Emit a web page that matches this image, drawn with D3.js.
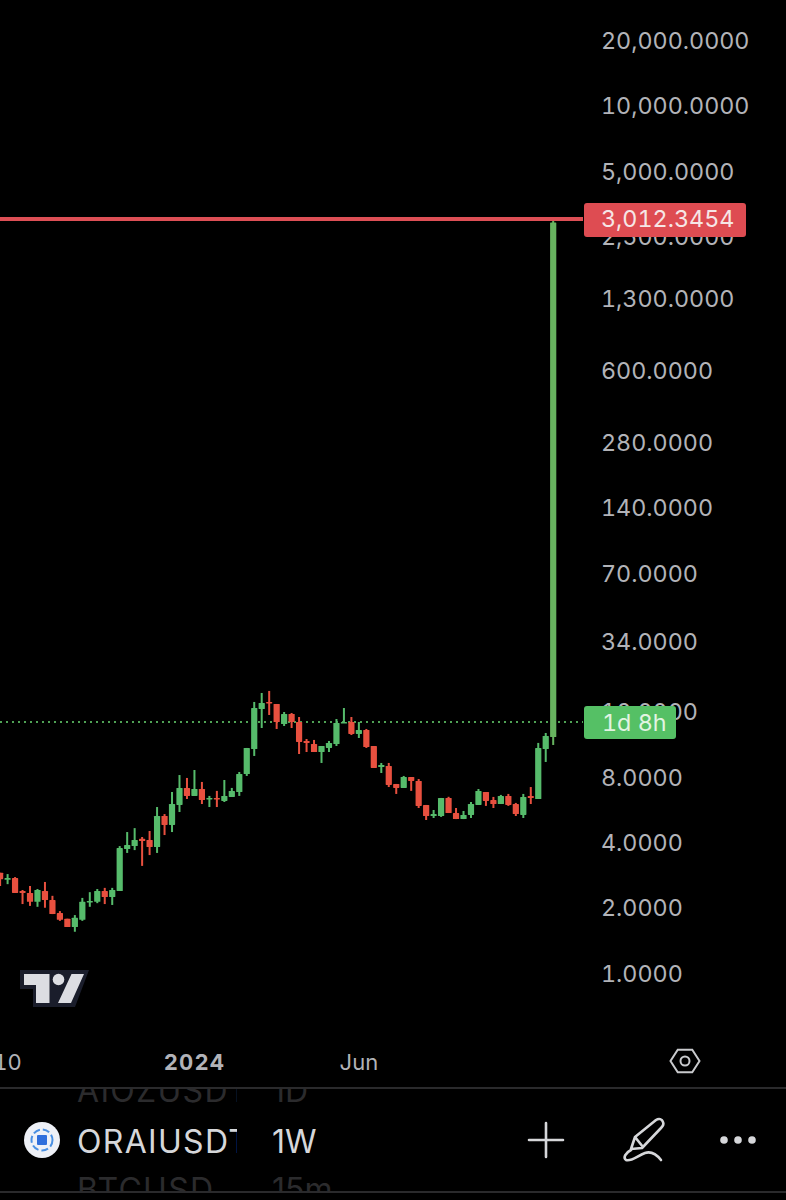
<!DOCTYPE html>
<html>
<head>
<meta charset="utf-8">
<script src="https://cdn.jsdelivr.net/npm/d3@7"></script>
<style>
  html, body { margin: 0; padding: 0; background: #000; }
  svg { display: block; }
  text { font-family: Inter, "Liberation Sans", sans-serif; font-variant-numeric: tabular-nums; font-feature-settings: "tnum" 1; }
  text.tf { font-variant-numeric: normal; font-feature-settings: "tnum" 0; }
</style>
</head>
<body>
<svg id="chart" width="786" height="1200"></svg>
<script>
// weekly candles, index 0 is the tall green one before 2024
const firstIndex = -16
const opens = [2.90,2.69,2.74,2.39,2.34,2.13,2.39,2.17,1.89,1.78,1.63,1.76,2.13,2.13,2.39,2.24,2.39,3.73,3.85,4.16,4.11,3.81,5.30,4.82,5.96,7.14,6.56,7.06,6.35,6.42,6.22,6.49,6.84,8.28,10.80,16.52,17.80,17.42,14.08,15.67,14.39,11.76,11.39,10.46,10.92,11.39,14.24,14.39,12.67,13.22,11.15,8.92,9.02,7.45,7.14,8.02,7.69,5.96,5.30,5.30,6.42,5.47,5.13,5.36,5.96,6.84,6.28,6.02,6.56,6.02,5.36,6.56,6.35,10.80,12.27]
const highs = [2.90,2.86,2.77,2.415,2.52,2.44,2.63,2.27,1.93,1.78,1.85,2.22,2.36,2.44,2.47,2.47,3.85,4.47,4.66,4.24,4.52,5.83,5.41,6.84,8.19,7.94,8.64,7.61,6.56,6.92,7.77,7.14,8.46,10.92,17.80,19.58,20.01,17.42,16.00,15.83,15.17,12.01,11.89,11.15,11.76,14.85,16.69,15.17,14.39,13.36,11.15,9.31,9.31,7.45,8.11,8.02,7.85,5.96,5.65,6.42,6.50,5.77,5.59,6.15,7.06,6.84,6.49,6.63,6.70,6.09,6.70,7.21,11.52,12.80,3012.3454]
const lows = [2.52,2.57,2.34,2.08,2.04,2.02,2.00,1.87,1.74,1.63,1.55,1.74,2.02,2.10,2.08,2.06,2.39,3.58,3.69,3.12,3.50,3.58,4.33,4.47,5.53,6.35,6.56,6.02,5.83,5.83,6.15,6.49,6.56,8.11,10.03,13.50,15.50,13.36,13.79,13.50,10.24,10.46,10.46,9.31,10.46,11.15,14.24,12.53,12.14,10.92,8.83,8.37,7.21,6.70,7.14,6.92,5.77,5.08,5.19,5.25,5.47,5.13,5.13,5.19,5.96,5.90,5.77,6.02,5.90,5.30,5.19,6.02,6.35,9.41,11.27]
const closes = [2.71,2.74,2.34,2.34,2.13,2.415,2.17,1.87,1.76,1.63,1.80,2.13,2.15,2.39,2.24,2.415,3.77,3.90,4.11,4.06,3.81,5.30,4.82,6.02,7.14,6.56,7.06,6.28,6.42,6.35,6.56,6.92,8.28,10.92,16.69,17.61,17.61,14.39,15.67,14.39,11.64,11.52,10.46,11.15,11.52,14.24,14.39,12.67,13.22,11.03,8.83,9.11,7.37,7.14,8.02,7.69,5.90,5.30,5.41,6.42,5.47,5.13,5.36,6.02,6.92,6.22,6.02,6.56,5.96,5.41,6.49,6.42,10.92,12.40,2900]

const priceTicks = [20000,10000,5000,2500,1300,600,280,140,70,34,16,8,4,2,1]
const timeTicks = [{ i: -15, label: '10', bold: false }, { i: 10, label: '2024', bold: true }, { i: 32, label: 'Jun', bold: false }]
const lastPrice = 3012.3454
const dottedPrice = 14.39
const countdown = '1d 8h'
const symbols = [
  { name: 'AIOZUSDT', tf: '1D', y: 1102, fill: '#2b2b2d' },
  { name: 'ORAIUSDT', tf: '1W', y: 1152.5, fill: '#d6d7da' },
  { name: 'BTCUSD', tf: '15m', y: 1201, fill: '#2b2b2d' }
]

const candles = opens.map((o, k) => ({ i: firstIndex + k, o, h: highs[k], l: lows[k], c: closes[k] }))

const paneRight = 583
const y = d3.scaleLog().domain([1, 20000]).range([973, 40.7])
const x = d3.scaleLinear().domain([0, 58]).range([119.7, 553.2])

const red = '#e8503f'
const green = '#56bb6b'
const spikeGreen = '#67b35f'
const labelGrey = '#b2b3b8'
const svg = d3.select('#chart')

svg.append('defs').append('clipPath').attr('id', 'pane')
  .append('rect').attr('width', paneRight).attr('height', 1088)
svg.select('defs').append('clipPath').attr('id', 'symbolClip')
  .append('rect').attr('x', 70).attr('y', 1088).attr('width', 167).attr('height', 104)
svg.select('defs').append('clipPath').attr('id', 'listClip')
  .append('rect').attr('x', 0).attr('y', 1088).attr('width', 786).attr('height', 104)

// price labels go first, the badges sit on top of them
svg.append('g').selectAll('text').data(priceTicks).join('text')
  .attr('x', 601)
  .attr('y', d => y(d) + 8.5)
  .attr('font-size', 23.3)
  .attr('fill', labelGrey)
  .text(d => d3.format(',.4f')(d))

const pane = svg.append('g').attr('clip-path', 'url(#pane)')

pane.append('line')
  .attr('x1', 0).attr('x2', paneRight)
  .attr('y1', y(dottedPrice)).attr('y2', y(dottedPrice))
  .attr('stroke', '#4fa355').attr('stroke-width', 2).attr('stroke-dasharray', '2 4')

const marks = pane.append('g').selectAll('g').data(candles).join('g')
  .attr('fill', d => d.h === lastPrice ? spikeGreen : d.c >= d.o ? green : red)
  .attr('stroke', 'none')

marks.append('rect')
  .attr('x', d => x(d.i) - 1)
  .attr('width', 2)
  .attr('y', d => y(d.h))
  .attr('height', d => y(d.l) - y(d.h))

marks.append('rect')
  .attr('x', d => x(d.i) - 3.1)
  .attr('width', 6.2)
  .attr('y', d => y(Math.max(d.o, d.c)))
  .attr('height', d => Math.max(1.5, y(Math.min(d.o, d.c)) - y(Math.max(d.o, d.c))))
  .attr('rx', 0.6)

pane.append('line')
  .attr('x1', 0).attr('x2', paneRight)
  .attr('y1', y(lastPrice)).attr('y2', y(lastPrice))
  .attr('stroke', '#dd4f55').attr('stroke-width', 4)

// tradingview mark
const logo = svg.append('g')
logo.append('path')
  .attr('d', 'M20 970H89L75 1007H33V989H20Z')
  .attr('fill', '#1a1d2b')
logo.append('path')
  .attr('d', 'M24 974H49.5V1003H36V985H24Z M71.5 974H84L71 1003H58Z')
  .attr('fill', '#dcdde2')
logo.append('circle').attr('cx', 58.5).attr('cy', 979.5).attr('r', 5.8).attr('fill', '#dcdde2')

// badges
svg.append('rect').attr('x', 584).attr('y', 203).attr('width', 162).attr('height', 34).attr('rx', 3).attr('fill', '#de4c52')
svg.append('text').attr('x', 601).attr('y', 227).attr('font-size', 23.3).attr('fill', '#f6e6e6').text(d3.format(',.4f')(lastPrice))
svg.append('rect').attr('x', 584).attr('y', 706).attr('width', 92).attr('height', 33).attr('rx', 3).attr('fill', '#55c065')
svg.append('text').attr('x', 602).attr('y', 731).attr('font-size', 23.3).attr('fill', '#e2f4e2').text(countdown)

// time axis
svg.append('g').selectAll('text').data(timeTicks).join('text')
  .attr('x', d => x(d.i))
  .attr('y', 1070)
  .attr('text-anchor', 'middle')
  .attr('font-size', 22)
  .attr('font-weight', d => d.bold ? 700 : 400)
  .attr('letter-spacing', d => d.bold ? 1.1 : 0)
  .attr('fill', labelGrey)
  .text(d => d.label)

svg.append('path')
  .attr('d', d3.line()(d3.range(6).map(k => [685 + 14.5 * Math.cos(k * Math.PI / 3), 1061 + 13 * Math.sin(k * Math.PI / 3)])) + 'Z')
  .attr('fill', 'none').attr('stroke', '#c9cacd').attr('stroke-width', 2)
svg.append('circle').attr('cx', 685).attr('cy', 1061).attr('r', 4.5).attr('fill', 'none').attr('stroke', '#c9cacd').attr('stroke-width', 2)

// bottom bar
svg.append('g').selectAll('line').data([1088, 1192]).join('line')
  .attr('x1', 0).attr('x2', 786).attr('y1', d => d).attr('y2', d => d)
  .attr('stroke', '#39393b').attr('stroke-width', 1.5)

const list = svg.append('g').attr('clip-path', 'url(#listClip)')
list.selectAll('text.sym').data(symbols).join('text')
  .attr('class', 'sym')
  .attr('x', 77).attr('y', d => d.y)
  .attr('clip-path', 'url(#symbolClip)')
  .attr('font-size', 32).attr('letter-spacing', 1.3).attr('fill', d => d.fill)
  .text(d => d.name)
list.selectAll('text.tf').data(symbols).join('text')
  .attr('class', 'tf')
  .attr('x', 272).attr('y', d => d.y)
  .attr('font-size', 32).attr('fill', d => d.fill)
  .text(d => d.tf)

svg.append('circle').attr('cx', 42).attr('cy', 1140).attr('r', 18).attr('fill', '#eef1f7')
svg.append('circle').attr('cx', 42).attr('cy', 1140).attr('r', 10.5).attr('fill', 'none').attr('stroke', '#4a90e2').attr('stroke-width', 2).attr('stroke-dasharray', '7 3')
svg.append('rect').attr('x', 37).attr('y', 1135).attr('width', 10).attr('height', 10).attr('rx', 1).attr('fill', '#2f6fdc')

const icons = svg.append('g').attr('fill', 'none').attr('stroke', '#d6d7da').attr('stroke-width', 2.6).attr('stroke-linecap', 'round').attr('stroke-linejoin', 'round')
icons.append('path').attr('d', 'M529 1140H563M546 1123V1157')
icons.append('path').attr('d', 'M631 1149L635 1137L656 1120C659 1118 662 1119 663 1122C664 1124 663 1126 661 1128L642 1148Z M635 1137L643 1147')
icons.append('path').attr('d', 'M631 1150C625 1153 623 1158 626 1160C631 1162 637 1156 645 1153C651 1151 657 1155 661 1160')
svg.append('g').attr('fill', '#d6d7da').selectAll('circle').data([724, 738, 752]).join('circle')
  .attr('cx', d => d).attr('cy', 1140).attr('r', 3.8)
</script>
</body>
</html>
